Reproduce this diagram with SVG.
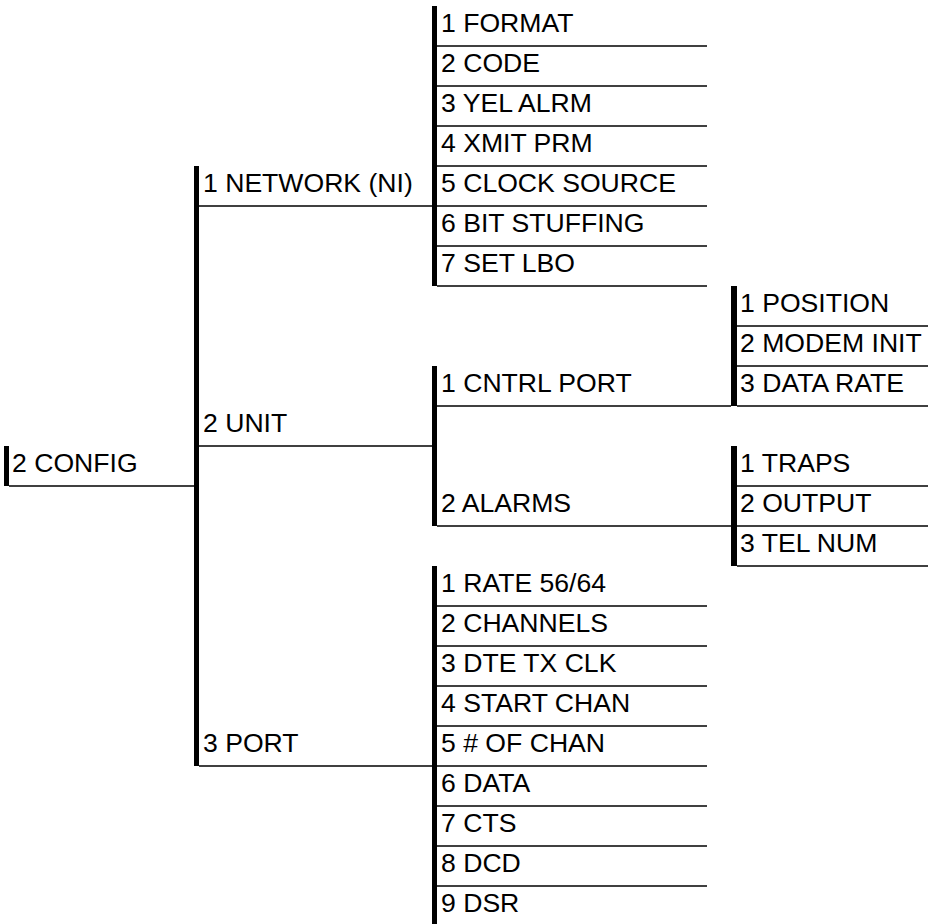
<svg xmlns="http://www.w3.org/2000/svg" width="928" height="924" viewBox="0 0 928 924">
<style>
text{font-family:"Liberation Sans",Arial,Helvetica,sans-serif;font-size:26.6px;fill:#000}
.u{stroke:#000;stroke-width:1.3;fill:none}
.bar{fill:#000}
</style>
<rect width="928" height="924" fill="#fff"/>
<g id="connectors">
<rect class="bar" x="4" y="446" width="5" height="40"/>
<line class="u" x1="9" y1="486" x2="194" y2="486"/>
<rect class="bar" x="194" y="166" width="5" height="600"/>
<line class="u" x1="199" y1="206" x2="432" y2="206"/>
<line class="u" x1="199" y1="446" x2="432" y2="446"/>
<line class="u" x1="199" y1="766" x2="432" y2="766"/>
<rect class="bar" x="432" y="6" width="5" height="280"/>
<rect class="bar" x="432" y="366" width="5" height="160"/>
<rect class="bar" x="432" y="566" width="5" height="370"/>
<line class="u" x1="437" y1="406" x2="731" y2="406"/>
<line class="u" x1="437" y1="526" x2="731" y2="526"/>
<rect class="bar" x="731" y="286" width="6" height="120"/>
<rect class="bar" x="731" y="446" width="6" height="120"/>
</g>
<g id="n-config"><text x="12" y="472">2 CONFIG</text></g>
<g id="n-network"><text x="203" y="192">1 NETWORK (NI)</text></g>
<g id="n-unit"><text x="203" y="432">2 UNIT</text></g>
<g id="n-port"><text x="203" y="752">3 PORT</text></g>
<g id="n-format"><text x="441" y="32">1 FORMAT</text><line class="u" x1="437" y1="46" x2="707" y2="46"/></g>
<g id="n-code"><text x="441" y="72">2 CODE</text><line class="u" x1="437" y1="86" x2="707" y2="86"/></g>
<g id="n-yel"><text x="441" y="112">3 YEL ALRM</text><line class="u" x1="437" y1="126" x2="707" y2="126"/></g>
<g id="n-xmit"><text x="441" y="152">4 XMIT PRM</text><line class="u" x1="437" y1="166" x2="707" y2="166"/></g>
<g id="n-clock"><text x="441" y="192">5 CLOCK SOURCE</text><line class="u" x1="437" y1="206" x2="707" y2="206"/></g>
<g id="n-bit"><text x="441" y="232">6 BIT STUFFING</text><line class="u" x1="437" y1="246" x2="707" y2="246"/></g>
<g id="n-lbo"><text x="441" y="272">7 SET LBO</text><line class="u" x1="437" y1="286" x2="707" y2="286"/></g>
<g id="n-cntrl"><text x="441" y="392">1 CNTRL PORT</text></g>
<g id="n-alarms"><text x="441" y="512">2 ALARMS</text></g>
<g id="n-position"><text x="740" y="312">1 POSITION</text><line class="u" x1="737" y1="326" x2="928" y2="326"/></g>
<g id="n-modem"><text x="740" y="352">2 MODEM INIT</text><line class="u" x1="737" y1="366" x2="928" y2="366"/></g>
<g id="n-datarate"><text x="740" y="392">3 DATA RATE</text><line class="u" x1="737" y1="406" x2="928" y2="406"/></g>
<g id="n-traps"><text x="740" y="472">1 TRAPS</text><line class="u" x1="737" y1="486" x2="928" y2="486"/></g>
<g id="n-output"><text x="740" y="512">2 OUTPUT</text><line class="u" x1="737" y1="526" x2="928" y2="526"/></g>
<g id="n-tel"><text x="740" y="552">3 TEL NUM</text><line class="u" x1="737" y1="566" x2="928" y2="566"/></g>
<g id="n-rate"><text x="441" y="592">1 RATE 56/64</text><line class="u" x1="437" y1="606" x2="707" y2="606"/></g>
<g id="n-channels"><text x="441" y="632">2 CHANNELS</text><line class="u" x1="437" y1="646" x2="707" y2="646"/></g>
<g id="n-dte"><text x="441" y="672">3 DTE TX CLK</text><line class="u" x1="437" y1="686" x2="707" y2="686"/></g>
<g id="n-start"><text x="441" y="712">4 START CHAN</text><line class="u" x1="437" y1="726" x2="707" y2="726"/></g>
<g id="n-numchan"><text x="441" y="752">5 # OF CHAN</text><line class="u" x1="437" y1="766" x2="707" y2="766"/></g>
<g id="n-data"><text x="441" y="792">6 DATA</text><line class="u" x1="437" y1="806" x2="707" y2="806"/></g>
<g id="n-cts"><text x="441" y="832">7 CTS</text><line class="u" x1="437" y1="846" x2="707" y2="846"/></g>
<g id="n-dcd"><text x="441" y="872">8 DCD</text><line class="u" x1="437" y1="886" x2="707" y2="886"/></g>
<g id="n-dsr"><text x="441" y="912">9 DSR</text></g>
</svg>
